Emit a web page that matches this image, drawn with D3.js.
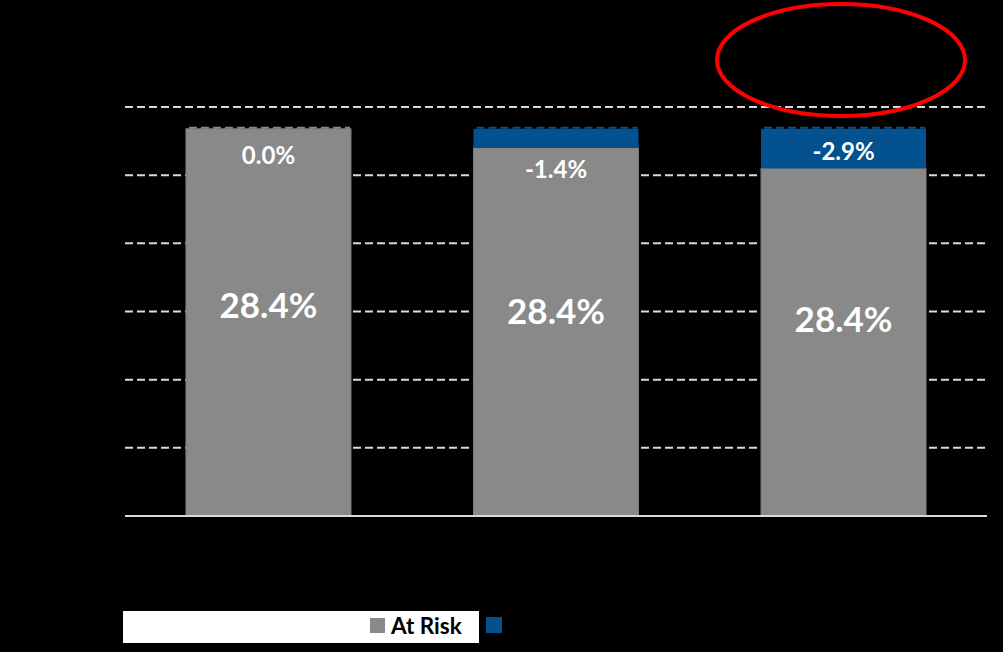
<!DOCTYPE html>
<html>
<head>
<meta charset="utf-8">
<script src="https://cdn.jsdelivr.net/npm/d3@7"></script>
<style>
  body { margin: 0; background: #000; }
  svg { display: block; }
  text { font-family: Lato, "Open Sans", sans-serif; font-weight: bold; }
</style>
</head>
<body>
<div id="chart"></div>
<script>
// chart values
var categories = ["A", "B", "C"];
var atRisk = [28.4, 28.4, 28.4];
var deltas = [0.0, -1.4, -2.9];
var yTicks = [0, 5, 10, 15, 20, 25, 30];
var legendNames = ["At Risk", ""];

var width = 1003, height = 652;
var margin = {top: 107, right: 18, bottom: 136, left: 125};

var grey = "#898989", blue = "#03528f";

var svg = d3.select("#chart")
    .append("svg")
    .attr("width", width)
    .attr("height", height)
    .style("background", "#000");

var xScale = d3.scaleBand()
    .domain(categories)
    .range([margin.left + 2, width - margin.right])
    .paddingInner(0.426)
    .paddingOuter(0.205);

var yScale = d3.scaleLinear()
    .domain([0, 30])
    .range([height - margin.bottom, margin.top]);

// gridlines
var grid = svg.append("g");
grid.selectAll("line")
    .data(yTicks.slice(1))
    .enter()
    .append("line")
    .attr("x1", margin.left)
    .attr("x2", width - margin.right)
    .attr("y1", d => yScale(d))
    .attr("y2", d => yScale(d))
    .attr("stroke", "#d9d9d9")
    .attr("stroke-width", 2)
    .attr("stroke-dasharray", "8,4");

var rows = categories.map(function(c, i) {
    return {cat: c, total: atRisk[i], delta: deltas[i], base: atRisk[i] + deltas[i]};
});

var bars = svg.append("g");

// grey part
bars.selectAll(".grey")
    .data(rows)
    .enter()
    .append("rect")
    .attr("class", "grey")
    .attr("x", d => xScale(d.cat))
    .attr("width", xScale.bandwidth())
    .attr("y", d => yScale(d.base))
    .attr("height", d => yScale(0) - yScale(d.base))
    .attr("fill", grey)
    .attr("stroke", "#7d7d7d")
    .attr("stroke-width", 1);

// blue part (the drop)
bars.selectAll(".blue")
    .data(rows)
    .enter()
    .append("rect")
    .attr("class", "blue")
    .attr("x", d => xScale(d.cat))
    .attr("width", xScale.bandwidth())
    .attr("y", d => yScale(d.total))
    .attr("height", d => yScale(d.base) - yScale(d.total))
    .attr("fill", blue);

// dashed cap on top of each bar
bars.selectAll(".cap")
    .data(rows)
    .enter()
    .append("line")
    .attr("x1", d => xScale(d.cat) + 1)
    .attr("x2", d => xScale(d.cat) + xScale.bandwidth() - 1)
    .attr("y1", d => yScale(d.total) - 1)
    .attr("y2", d => yScale(d.total) - 1)
    .attr("stroke", d => d.delta < 0 ? blue : grey)
    .attr("stroke-width", 2)
    .attr("stroke-dasharray", "8,4")
    .attr("stroke-dashoffset", -2);

// baseline
svg.append("line")
    .attr("x1", margin.left)
    .attr("x2", width - margin.right + 2)
    .attr("y1", yScale(0))
    .attr("y2", yScale(0))
    .attr("stroke", "#d9d9d9")
    .attr("stroke-width", 2);

// big labels
bars.selectAll(".big")
    .data(rows)
    .enter()
    .append("text")
    .attr("x", d => xScale(d.cat) + xScale.bandwidth() / 2)
    .attr("y", d => yScale(d.base * 0.36 + 5.26))
    .attr("dy", "0.36em")
    .attr("text-anchor", "middle")
    .attr("fill", "#fff")
    .style("font-size", "35px")
    .text(d => d.total.toFixed(1) + "%");

// delta labels
bars.selectAll(".small")
    .data(rows)
    .enter()
    .append("text")
    .attr("x", d => xScale(d.cat) + xScale.bandwidth() / 2)
    .attr("y", function(d) {
        var segH = yScale(d.base) - yScale(d.total);
        if (segH > 25) return (yScale(d.base) + yScale(d.total)) / 2 + 3;
        if (segH > 0) return yScale(d.base) + 21;
        return yScale(d.base) + 27;
    })
    .attr("dy", "0.36em")
    .attr("text-anchor", "middle")
    .attr("fill", "#fff")
    .style("font-size", "24px")
    .text(d => d.delta.toFixed(1) + "%");

// red highlight ellipse
svg.append("ellipse")
    .attr("cx", 841)
    .attr("cy", 60)
    .attr("rx", 124)
    .attr("ry", 56)
    .attr("fill", "none")
    .attr("stroke", "#ff0000")
    .attr("stroke-width", 4);

// legend
var legend = svg.append("g");
legend.append("rect")
    .attr("x", 123)
    .attr("y", 611)
    .attr("width", 356)
    .attr("height", 32)
    .attr("fill", "#fff");
legend.append("rect")
    .attr("x", 370)
    .attr("y", 618)
    .attr("width", 15)
    .attr("height", 15)
    .attr("fill", grey);
legend.append("text")
    .attr("x", 391)
    .attr("y", 634)
    .attr("fill", "#000")
    .style("font-size", "22.5px")
    .text(legendNames[0]);
legend.append("rect")
    .attr("x", 486)
    .attr("y", 617)
    .attr("width", 16)
    .attr("height", 16)
    .attr("fill", blue);
legend.append("text")
    .attr("x", 508)
    .attr("y", 634)
    .attr("fill", "#000")
    .style("font-size", "22.5px")
    .text(legendNames[1]);
</script>
</body>
</html>
